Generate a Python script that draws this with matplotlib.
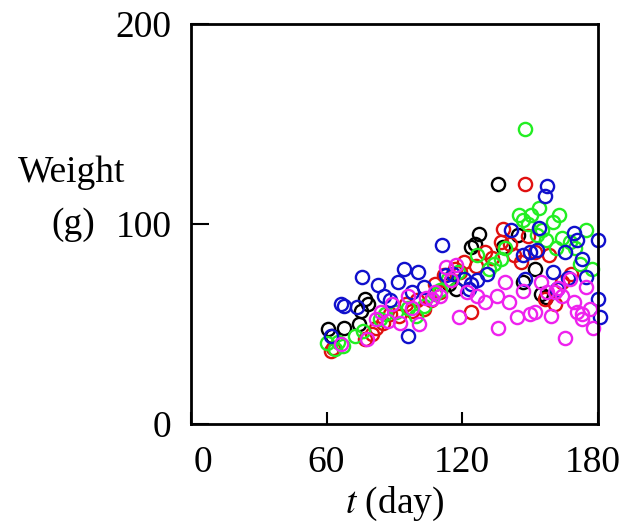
"""
Рост массы: диаграмма рассеяния по дням для пяти групп
"""
import matplotlib
matplotlib.use('Agg')
import matplotlib.pyplot as plt
import matplotlib.transforms as mtransforms

# данные по группам (день, масса в граммах)
black_t = [60.6, 67.7, 74.5, 75.4, 77.2, 78.5, 117.4, 123.7, 125.5, 127.3,
           135.7, 138.0, 144.8, 147.0, 152.3, 155.0, 157.0, 62.5, 114.0]
black_w = [47.8, 48.3, 50.0, 56.7, 62.6, 60.0, 67.7, 88.7, 89.9, 95.1,
           120.2, 88.7, 94.6, 71.0, 77.8, 65.2, 63.5, 44.0, 70.0]

red_t = [62.0, 63.0, 77.0, 81.7, 85.0, 92.0, 97.8, 103.0, 106.0, 110.0,
         112.0, 117.0, 121.0, 123.7, 126.0, 130.0, 137.0, 138.0, 143.0,
         146.0, 147.8, 149.0, 156.8, 158.6, 164.0, 168.0, 80.0, 88.0,
         95.0, 100.0, 108.0, 115.0, 119.0, 133.0, 141.0, 152.0, 161.0]
red_w = [36.5, 38.0, 42.4, 48.0, 50.8, 54.0, 56.7, 57.6, 62.0, 66.0,
         74.4, 77.8, 81.0, 55.9, 79.0, 86.0, 91.2, 97.5, 84.5,
         81.0, 120.2, 94.0, 62.6, 84.5, 71.0, 75.0, 45.0, 55.0,
         60.0, 62.0, 70.0, 72.0, 76.0, 83.0, 90.0, 86.0, 60.0]

green_t = [60.2, 63.8, 67.4, 72.8, 76.3, 83.5, 90.6, 99.6, 103.0, 108.0,
           113.9, 126.4, 131.7, 137.0, 139.0, 145.0, 146.9, 147.8, 150.5,
           153.0, 154.0, 157.0, 160.0, 163.0, 164.0, 167.5, 170.0, 174.6,
           177.3, 172.0, 65.0, 86.0, 96.0, 110.0, 118.0, 134.0, 149.0,
           155.5, 161.5]
green_w = [40.7, 37.4, 39.0, 44.0, 46.6, 52.5, 56.0, 54.2, 59.3, 65.0,
           72.7, 84.5, 77.8, 82.8, 87.9, 104.7, 102.2, 147.6, 104.7,
           94.6, 108.0, 92.0, 101.3, 104.7, 92.9, 91.2, 88.0, 97.1,
           77.8, 80.0, 41.0, 55.0, 58.0, 67.0, 76.0, 80.0, 100.0,
           97.0, 88.0]

blue_t = [62.0, 66.5, 67.5, 73.6, 75.8, 82.6, 85.3, 91.5, 94.2, 96.0,
          100.5, 103.0, 111.2, 113.0, 121.0, 122.8, 126.4, 130.9, 141.6,
          147.0, 148.0, 153.0, 154.0, 156.8, 157.7, 160.3, 162.0, 165.7,
          169.3, 171.0, 172.9, 174.6, 180.0, 180.0, 181.0, 88.0, 98.0,
          116.0, 124.0, 150.0, 167.0]
blue_w = [44.0, 60.0, 59.0, 58.4, 73.6, 69.4, 64.3, 71.0, 77.8, 44.0,
          76.1, 68.5, 89.6, 74.4, 72.7, 67.7, 71.9, 75.3, 97.1,
          84.5, 72.7, 87.0, 98.0, 114.0, 119.0, 76.0, 67.7, 86.0,
          95.5, 92.0, 82.8, 73.6, 92.0, 62.6, 53.4, 62.0, 66.0,
          75.0, 70.0, 86.0, 73.0]

magenta_t = [66.5, 78.0, 81.7, 87.0, 92.4, 96.0, 101.0, 106.7, 110.0, 113.0,
             117.4, 118.4, 122.0, 126.4, 130.0, 135.3, 135.7, 139.0, 140.7,
             144.3, 147.0, 150.0, 155.0, 157.7, 159.5, 161.0, 164.0, 165.7,
             167.5, 169.3, 171.0, 172.9, 174.6, 176.4, 178.0, 84.0, 89.0,
             98.0, 104.0, 108.0, 115.0, 152.0, 162.5, 173.0]
magenta_w = [40.0, 42.4, 52.5, 51.7, 50.8, 64.3, 50.0, 62.6, 64.3, 78.6,
             79.5, 53.4, 66.0, 64.3, 61.0, 64.3, 48.3, 71.0, 61.0,
             53.4, 66.8, 55.0, 71.0, 66.0, 54.2, 66.0, 64.3, 43.3,
             72.7, 61.0, 56.0, 52.5, 68.5, 57.6, 48.3, 56.0, 60.0,
             58.0, 63.0, 66.0, 72.0, 56.0, 68.0, 55.0]

x_ticks = [0, 60, 120, 180]
y_ticks = [0, 100, 200]


def draw_groups(ax):
    """
        Рисует все группы пустыми кружками.
    """
    groups = [(black_t, black_w, '#000000'),
              (red_t, red_w, '#e01010'),
              (green_t, green_w, '#22ee22'),
              (blue_t, blue_w, '#1010cc'),
              (magenta_t, magenta_w, '#ee22ee')]
    for t, w, color in groups:
        ax.plot(t, w, 'o', markersize=9.5, markerfacecolor='none',
                markeredgecolor=color, markeredgewidth=1.7, linestyle='none',
                clip_on=False)


plt.rcParams['font.family'] = ['Liberation Serif', 'DejaVu Serif']
plt.rcParams['mathtext.fontset'] = 'stix'

fig = plt.figure(figsize=(6.24, 5.27), dpi=100)
ax = fig.add_axes([0.306, 0.195, 0.652, 0.759])
draw_groups(ax)

ax.set_xlim(0, 180)
ax.set_ylim(0, 200)
ax.set_xticks(x_ticks)
ax.set_yticks(y_ticks)
ax.tick_params(axis='both', direction='in', labelsize=27, width=1.5,
               pad=14)
ax.tick_params(axis='x', length=9, pad=15)
ax.tick_params(axis='y', length=13)
for spine in ax.spines.values():
    spine.set_linewidth(2)

# сдвиг крайних меток по оси x, как в оригинале
labels = ax.get_xticklabels()
shift0 = mtransforms.ScaledTranslation(0.12, 0, fig.dpi_scale_trans)
labels[0].set_transform(labels[0].get_transform() + shift0)
shift_end = mtransforms.ScaledTranslation(-0.05, 0, fig.dpi_scale_trans)
labels[-1].set_transform(labels[-1].get_transform() + shift_end)

ax.set_xlabel('$t$ (day)', fontsize=27, labelpad=4)
fig.text(72 / 624, 1 - 173 / 527, 'Weight', fontsize=27,
         ha='center', va='center')
fig.text(73 / 624, 1 - 225 / 527, '(g)', fontsize=27,
         ha='center', va='center')

fig.savefig('out.png', dpi=100)
